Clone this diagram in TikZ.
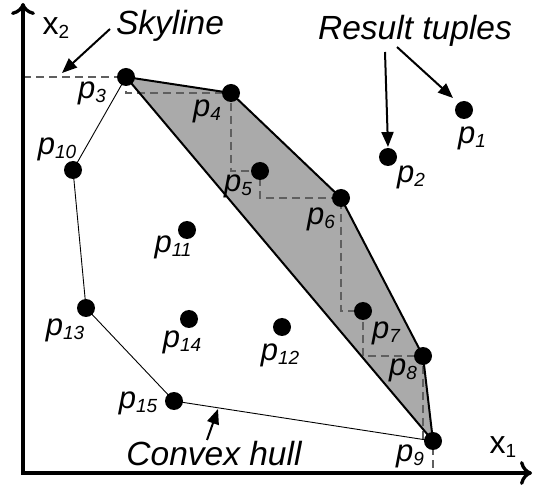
\documentclass[tikz,border=0pt]{standalone}
\usepackage{fontspec}
\setmainfont{Liberation Sans}
\usetikzlibrary{arrows.meta}
\definecolor{hullgray}{RGB}{170,170,170}
\definecolor{dashgray}{RGB}{95,95,95}
\newcommand{\pl}[1]{\textit{p}\raisebox{-4pt}{\fontsize{19}{19}\selectfont\textit{#1}}}
\begin{document}
\begin{tikzpicture}[x=1pt,y=-1pt,
 dot/.style={circle,fill=black,inner sep=0pt,minimum size=18pt},
 lbl/.style={font=\fontsize{31}{31}\selectfont\itshape, inner sep=0pt},
 ann/.style={font=\fontsize{33.5}{33.5}\selectfont\itshape, inner sep=0pt},
 axlbl/.style={font=\fontsize{32}{32}\selectfont, inner sep=0pt},
 annarrow/.style={line width=2pt,-{Triangle[length=15pt,width=12pt]}},
 axisline/.style={line width=3.3pt,line join=miter,
   {Computer Modern Rightarrow[length=12pt,width=24pt]}-{Computer Modern Rightarrow[length=12pt,width=24pt]}},
 hullline/.style={line width=0.9pt},
 skyline/.style={line width=1.3pt,dashgray,dash pattern=on 8pt off 5pt},
 edgeline/.style={line width=2pt,line join=round}]
\useasboundingbox (0,0) rectangle (533,486);
% points
\coordinate (c1) at (464,110);
\coordinate (c2) at (388,157);
\coordinate (c3) at (126,77);
\coordinate (c4) at (231,93);
\coordinate (c5) at (260,171);
\coordinate (c6) at (341,198);
\coordinate (c7) at (363,311);
\coordinate (c8) at (423,356);
\coordinate (c9) at (433,441);
\coordinate (c10) at (73,170);
\coordinate (c11) at (187,230);
\coordinate (c12) at (282,327);
\coordinate (c13) at (86,308);
\coordinate (c14) at (189,319);
\coordinate (c15) at (174,401);
% axes
\coordinate (O) at (23,473);
\coordinate (Y) at (23,3);
\coordinate (X) at (532,473);
% shaded polygon
\fill[hullgray] (c3) -- (c4) -- (c6) -- (c8) -- (c9) -- cycle;
% skyline staircase
\coordinate (s0) at (23,77);
\coordinate (s1) at (126,93);
\coordinate (s2) at (231,171);
\coordinate (s3) at (260,198);
\coordinate (s4) at (341,311);
\coordinate (s5) at (363,356);
\coordinate (s6) at (423,441);
\coordinate (s7) at (433,473);
\draw[skyline] (s0) -- (c3) -- (s1) -- (c4) -- (s2) -- (c5) -- (s3) -- (c6)
  -- (s4) -- (c7) -- (s5) -- (c8) -- (s6) -- (c9) -- (s7);
% shaded polygon edges
\draw[edgeline] (c3) -- (c4) -- (c6) -- (c8) -- (c9) -- cycle;
% convex hull
\draw[hullline] (c3) -- (c10) -- (c13) -- (c15) -- (c9);
% axes
\draw[axisline] (Y) -- (O) -- (X);
% dots
\foreach \i in {1,...,15} \node[dot] (p\i) at (c\i) {};
% labels
\node[lbl] (l1) at (472,138) {\pl{1}};
\node[lbl] (l2) at (411,177) {\pl{2}};
\node[lbl] (l3) at (92,93) {\pl{3}};
\node[lbl] (l4) at (207,111) {\pl{4}};
\node[lbl] (l5) at (238,186) {\pl{5}};
\node[lbl] (l6) at (321,219) {\pl{6}};
\node[lbl] (l7) at (386,333) {\pl{7}};
\node[lbl] (l8) at (403,370) {\pl{8}};
\node[lbl] (l9) at (410,456) {\pl{9}};
\node[lbl] (l10) at (57,149) {\pl{10}};
\node[lbl] (l11) at (173,247) {\pl{11}};
\node[lbl] (l12) at (280,355) {\pl{12}};
\node[lbl] (l13) at (65,330) {\pl{13}};
\node[lbl] (l14) at (182,342) {\pl{14}};
\node[lbl] (l15) at (138,403) {\pl{15}};
\node[axlbl] (x2) at (56,28) {x\raisebox{-4pt}{\fontsize{19}{19}\selectfont 2}};
\node[axlbl] (x1) at (503,447) {x\raisebox{-4pt}{\fontsize{19}{19}\selectfont 1}};
% annotations
\node[ann] (sky) at (170,26) {Skyline};
\node[ann] (res) at (415,31) {Result tuples};
\node[ann] (cvx) at (214,454) {Convex hull};
\coordinate (a1s) at (110,29);
\coordinate (a1e) at (62,73);
\coordinate (a2s) at (385,52);
\coordinate (a2e) at (388,147);
\coordinate (a3s) at (397,47);
\coordinate (a3e) at (453,98);
\coordinate (a4s) at (207,440);
\coordinate (a4e) at (218,409);
\draw[annarrow] (a1s) -- (a1e);
\draw[annarrow] (a2s) -- (a2e);
\draw[annarrow] (a3s) -- (a3e);
\draw[annarrow] (a4s) -- (a4e);
\end{tikzpicture}
\end{document}
